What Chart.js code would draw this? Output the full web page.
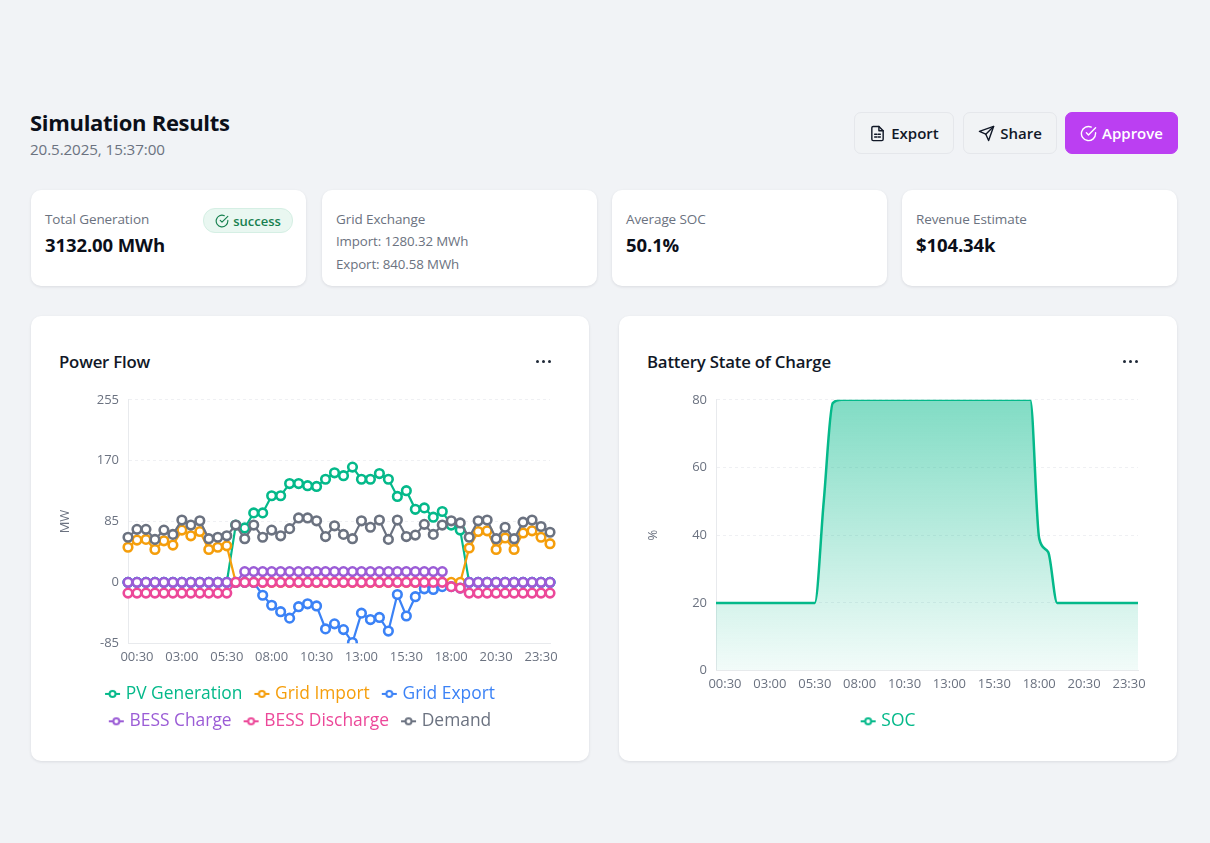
<!DOCTYPE html>
<html>
<head>
<meta charset="utf-8">
<title>Simulation Results</title>
<script src="https://cdn.jsdelivr.net/npm/chart.js@4"></script>
<style>
html, body { margin: 0; padding: 0; }
body { width: 1210px; height: 843px; background: #f1f3f6; position: relative; overflow: hidden; font-family: "Open Sans", sans-serif; color: #111827; }
.abs { position: absolute; white-space: nowrap; }
h1 { margin: 0; font-size: 22px; font-weight: 700; left: 30px; top: 107px; line-height: 30px; letter-spacing: -0.3px; color: #0b0f19; }
.date { left: 30px; top: 139px; font-size: 15.2px; line-height: 20px; color: #6b7280; letter-spacing: -0.1px; }
.btn { top: 112px; height: 40px; border: 1px solid #e5e7eb; border-radius: 7px; background: #f1f3f5; display: flex; align-items: center; justify-content: center; gap: 5px; font-size: 15px; font-weight: 600; color: #111827; box-sizing: content-box; }
.btn svg { width: 17px; height: 17px; fill: none; stroke: currentColor; stroke-width: 2; stroke-linecap: round; stroke-linejoin: round; }
.btn.primary { background: #bb3ff2; border-color: #bb3ff2; color: #fff; }
.card { background: #fff; border-radius: 10px; box-shadow: 0 1px 3px rgba(17,24,39,.10); }
.stat { top: 190px; height: 96px; width: 275px; }
.lbl { font-size: 13.5px; line-height: 18px; color: #6b7280; font-weight: 500; letter-spacing: -0.1px; }
.val { font-size: 18.5px; line-height: 22px; font-weight: 700; color: #0b0f19; letter-spacing: -0.1px; }
.sub { font-size: 13.3px; line-height: 18px; color: #6b7280; letter-spacing: -0.1px; }
.badge { left: 172px; top: 18px; width: 88px; height: 23px; border-radius: 12px; background: #e9f7f1; border: 1px solid #d5efe4; color: #17804f; font-size: 13px; font-weight: 600; display: flex; align-items: center; justify-content: center; gap: 4px; }
.badge svg { width: 14px; height: 14px; fill: none; stroke: currentColor; stroke-width: 2; stroke-linecap: round; stroke-linejoin: round; }
.panel { top: 316px; height: 445px; width: 558px; }
h2 { margin: 0; font-size: 16.8px; font-weight: 600; line-height: 24px; color: #111827; letter-spacing: -0.2px; top: 350px; }
.dots { top: 360px; width: 16px; height: 5px; }
.dots i { position: absolute; top: 0; width: 3px; height: 3px; border-radius: 50%; background: #1f2937; }
canvas { position: absolute; }
</style>
</head>
<body>
<h1 class="abs">Simulation Results</h1>
<div class="abs date">20.5.2025, 15:37:00</div>

<div class="abs btn" style="left:854px;width:98px">
  <svg viewBox="0 0 24 24"><path d="M14 2H6a2 2 0 0 0-2 2v16a2 2 0 0 0 2 2h12a2 2 0 0 0 2-2V8z"/><path d="M14 2v6h6"/><path d="M8 13h3M13 13h3M8 17h3M13 17h3"/></svg>Export</div>
<div class="abs btn" style="left:963px;width:92px">
  <svg viewBox="0 0 24 24"><path d="M22 2 11 13"/><path d="M22 2 15 22l-4-9-9-4z"/></svg>Share</div>
<div class="abs btn primary" style="left:1065px;width:111px">
  <svg viewBox="0 0 24 24"><path d="M22 11v1a10 10 0 1 1-6-9.1"/><path d="M22 4 12 14l-3-3"/></svg>Approve</div>

<div class="abs card stat" style="left:31px">
  <div class="abs lbl" style="left:14px;top:20px">Total Generation</div>
  <div class="abs val" style="left:14px;top:44px">3132.00 MWh</div>
  <div class="abs badge"><svg viewBox="0 0 24 24"><path d="M22 11v1a10 10 0 1 1-6-9.1"/><path d="M22 4 12 14l-3-3"/></svg>success</div>
</div>
<div class="abs card stat" style="left:322px">
  <div class="abs lbl" style="left:14px;top:20px">Grid Exchange</div>
  <div class="abs sub" style="left:14px;top:42px">Import: 1280.32 MWh</div>
  <div class="abs sub" style="left:14px;top:65px">Export: 840.58 MWh</div>
</div>
<div class="abs card stat" style="left:612px">
  <div class="abs lbl" style="left:14px;top:20px">Average SOC</div>
  <div class="abs val" style="left:14px;top:44px">50.1%</div>
</div>
<div class="abs card stat" style="left:902px">
  <div class="abs lbl" style="left:14px;top:20px">Revenue Estimate</div>
  <div class="abs val" style="left:14px;top:44px">$104.34k</div>
</div>

<div class="abs card panel" style="left:31px"></div>
<div class="abs card panel" style="left:619px"></div>
<h2 class="abs" style="left:59px">Power Flow</h2>
<h2 class="abs" style="left:647px">Battery State of Charge</h2>
<div class="abs dots" style="left:536px"><i style="left:0"></i><i style="left:6px"></i><i style="left:12px"></i></div>
<div class="abs dots" style="left:1123px"><i style="left:0"></i><i style="left:6px"></i><i style="left:12px"></i></div>

<canvas id="powerChart" style="left:48px;top:383px;width:522px;height:357px"></canvas>
<canvas id="socChart" style="left:636px;top:383px;width:522px;height:357px"></canvas>

<script>
// half hour steps, only these get a label on the x axis
let timeLabels = ["", "00:30", "", "", "", "", "03:00", "", "", "", "", "05:30", "", "", "", "", "08:00", "", "", "", "", "10:30", "", "", "", "", "13:00", "", "", "", "", "15:30", "", "", "", "", "18:00", "", "", "", "", "20:30", "", "", "", "", "23:30", ""];

let pvGeneration = [0, 0, 0, 0, 0, 0, 0, 0, 0, 0, 0, 0, 80, 76, 97, 97, 121, 121, 138, 138, 135, 134, 144, 153, 149, 161, 144, 144, 152, 144, 120, 128, 102, 104, 91, 99, 80, 73, 0, 0, 0, 0, 0, 0, 0, 0, 0, 0];
let gridImport = [49, 59, 60, 46, 58, 52, 73, 65, 71, 46, 49, 51, 0, 0, 0, 0, 0, 0, 0, 0, 0, 0, 0, 0, 0, 0, 0, 0, 0, 0, 0, 0, 0, 0, 0, 0, 0, 0, 48, 71, 72, 46, 62, 46, 69, 72, 63, 54];
let gridExport = [0, 0, 0, 0, 0, 0, 0, 0, 0, 0, 0, 0, 0, 0, 0, -18, -32, -41, -50, -34, -30, -33, -65, -58, -66, -84, -43, -52, -49, -68, -17, -47, -20, -9, -10, -6, -6, -8, 0, 0, 0, 0, 0, 0, 0, 0, 0, 0];
let bessCharge = [0, 0, 0, 0, 0, 0, 0, 0, 0, 0, 0, 0, 0, 15, 15, 15, 15, 15, 15, 15, 15, 15, 15, 15, 15, 15, 15, 15, 15, 15, 15, 15, 15, 15, 15, 15, null, null, 0, 0, 0, 0, 0, 0, 0, 0, 0, 0];
let bessDischarge = [-15, -15, -15, -15, -15, -15, -15, -15, -15, -15, -15, -15, 0, 0, 0, 0, 0, 0, 0, 0, 0, 0, 0, 0, 0, 0, 0, 0, 0, 0, 0, 0, 0, 0, 0, 0, -6, -8, -15, -15, -15, -15, -15, -15, -15, -15, -15, -15];
let demand = [63, 74, 74, 60, 73, 67, 87, 80, 86, 61, 63, 65, 80, 61, 80, 63, 73, 65, 75, 90, 90, 86, 64, 79, 67, 61, 86, 77, 87, 60, 87, 64, 66, 81, 67, 80, 86, 83, 63, 86, 87, 61, 77, 61, 84, 87, 78, 70];
let soc = [20, 20, 20, 20, 20, 20, 20, 20, 20, 20, 20, 20, 50, 79, 80, 80, 80, 80, 80, 80, 80, 80, 80, 80, 80, 80, 80, 80, 80, 80, 80, 80, 80, 80, 80, 80, 39, 35, 20, 20, 20, 20, 20, 20, 20, 20, 20, 20];

let chartFont = "Open Sans";
let tickColor = "#6b7280";
let gridColor = "#eff0f3";

// little line with a hollow dot, same as the recharts legend icon.
// wider than it looks so chart.js centres it closer to the text
function legendIcon(color) {
  let c = document.createElement("canvas");
  c.width = 32;
  c.height = 10;
  let ctx = c.getContext("2d");
  ctx.strokeStyle = color;
  ctx.lineWidth = 2;
  ctx.beginPath();
  ctx.moveTo(11, 5);
  ctx.lineTo(26, 5);
  ctx.stroke();
  ctx.fillStyle = "#fff";
  ctx.beginPath();
  ctx.arc(18.5, 5, 3, 0, Math.PI * 2);
  ctx.fill();
  ctx.stroke();
  return c;
}

function legendOptions() {
  return {
    position: "bottom",
    labels: {
      usePointStyle: true,
      pointStyleWidth: 14,
      padding: 10,
      font: { family: chartFont, size: 17.4 },
      generateLabels: chart => chart.data.datasets.map((ds, i) => ({
        text: ds.label,
        fontColor: ds.borderColor,
        fillStyle: "#fff",
        strokeStyle: ds.borderColor,
        pointStyle: legendIcon(ds.borderColor),
        datasetIndex: i
      }))
    }
  };
}

function scales(yTitle, yMin, yMax, yStep) {
  return {
    x: {
      grid: { display: false, drawTicks: false },
      border: { color: "#e8eaed" },
      afterFit: s => { s.height = 32; },
      ticks: {
        color: tickColor,
        font: { family: chartFont, size: 13 },
        autoSkip: false,
        maxRotation: 0,
        padding: 6,
        callback: (v, i) => timeLabels[i]
      }
    },
    y: {
      min: yMin,
      max: yMax,
      afterFit: s => { s.width = 80; },
      border: { color: "#e8eaed", dash: [3, 3] },
      grid: {
        color: gridColor,
        drawTicks: false
      },
      title: {
        display: true,
        text: yTitle,
        color: tickColor,
        font: { family: chartFont, size: 13 },
        padding: { top: 9, bottom: 0 }
      },
      ticks: {
        stepSize: yStep,
        color: tickColor,
        padding: 9,
        font: { family: chartFont, size: 13 }
      }
    }
  };
}

function lineSet(label, values, color, order) {
  return {
    label: label,
    data: values,
    order: order, // chart.js paints high order first, demand has to end up on top
    borderColor: color,
    backgroundColor: "#fff",
    borderWidth: 2.2,
    pointRadius: 4.3,
    pointBorderWidth: 2.6,
    pointBackgroundColor: "#fff",
    pointBorderColor: color
  };
}

new Chart(document.getElementById("powerChart"), {
  type: "line",
  data: {
    labels: timeLabels,
    datasets: [
      lineSet("PV Generation", pvGeneration, "#04b98a", 6),
      lineSet("Grid Import", gridImport, "#f59e0b", 5),
      lineSet("Grid Export", gridExport, "#3b82f6", 4),
      lineSet("BESS Charge", bessCharge, "#9b5cd6", 3),
      lineSet("BESS Discharge", bessDischarge, "#ec4899", 2),
      lineSet("Demand", demand, "#6b7280", 1)
    ]
  },
  options: {
    responsive: false,
    animation: false,
    layout: { padding: { top: 10, right: 20 } },
    plugins: { legend: legendOptions(), tooltip: { enabled: false } },
    scales: scales("MW", -85, 255, 85)
  }
});

new Chart(document.getElementById("socChart"), {
  type: "line",
  data: {
    labels: timeLabels,
    datasets: [{
      label: "SOC",
      data: soc,
      borderColor: "#04b98a",
      borderWidth: 2.5,
      pointRadius: 0,
      cubicInterpolationMode: "monotone",
      fill: "origin",
      backgroundColor: ctx => {
        let area = ctx.chart.chartArea;
        if (!area) return "transparent";
        let g = ctx.chart.ctx.createLinearGradient(0, area.top, 0, area.bottom);
        g.addColorStop(0, "rgba(4,185,138,0.5)");
        g.addColorStop(1, "rgba(4,185,138,0.05)");
        return g;
      }
    }]
  },
  options: {
    responsive: false,
    animation: false,
    layout: { padding: { top: 10, right: 20 } },
    plugins: { legend: legendOptions(), tooltip: { enabled: false } },
    scales: scales("%", 0, 80, 20)
  }
});
</script>
</body>
</html>
